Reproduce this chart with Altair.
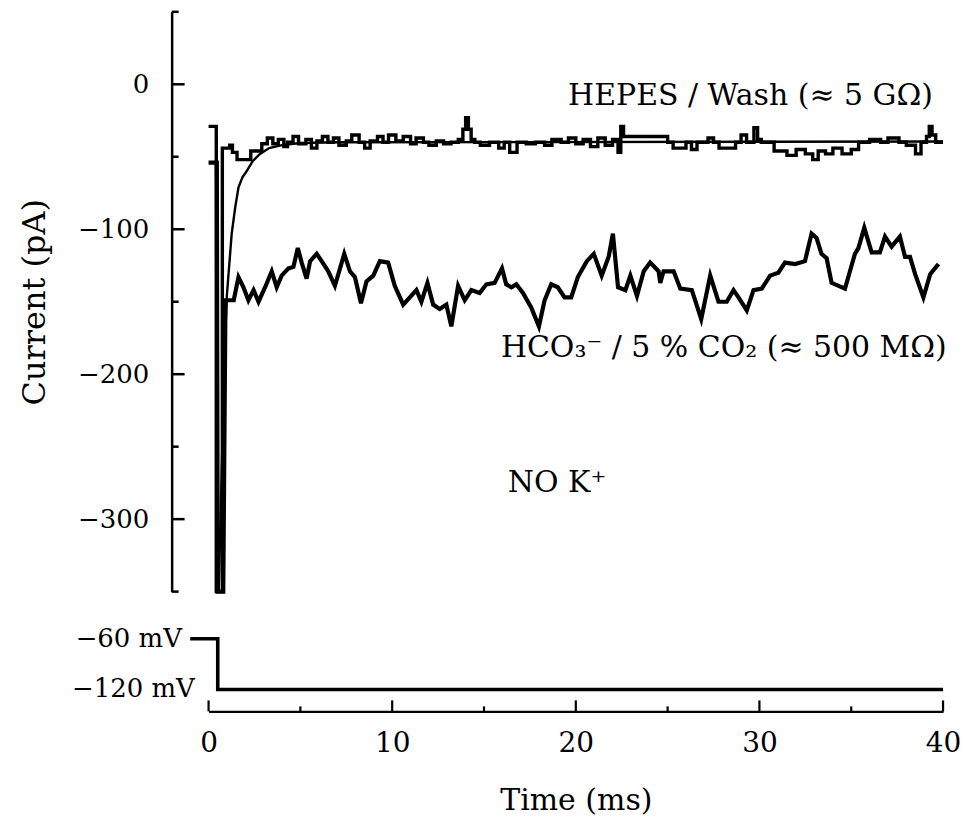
import altair as alt
import pandas as pd

FONT = "DejaVu Serif"

# ---------------- data ----------------
# HEPES / Wash trace (noisy, step-like), time in ms, current in pA
hepes_t = [0, 0.42, 0.75, 1.15, 1.3, 1.55, 2.3, 2.9, 3.2, 3.5, 3.8, 4.1, 4.3, 4.6, 4.9,
           5.3, 5.6, 5.9, 6.2, 6.5, 6.8, 7.1, 7.5, 7.8, 8.2, 8.5, 8.8, 9.2, 9.5, 9.8,
           10.2, 10.6, 11.0, 11.3, 11.7, 12.0, 12.4, 12.8, 13.2, 13.6, 13.85, 14.0, 14.15,
           14.3, 14.5, 14.8, 15.3, 15.8, 16.1, 16.4, 16.8, 17.3, 17.8, 18.3, 18.7, 19.2,
           19.6, 20.0, 20.4, 20.8, 21.2, 21.6, 22.0, 22.3, 22.45, 22.6, 25.0, 25.3, 26.0,
           26.3, 26.6, 27.2, 27.5, 27.8, 28.7, 29.0, 29.3, 29.7, 29.9, 30.1, 30.8, 31.5,
           32.0, 32.5, 32.9, 33.2, 33.6, 34.0, 34.5, 35.0, 35.4, 36.0, 36.6, 37.0, 37.6,
           38.0, 38.5, 38.8, 39.1, 39.25, 39.4, 39.6, 40.0]
hepes_i = [-29, -350, -44, -42, -47, -52, -46, -41, -37, -41, -38, -43, -40, -36, -41,
           -38, -44, -39, -36, -40, -37, -42, -39, -35, -40, -44, -39, -36, -40, -35,
           -39, -36, -41, -37, -40, -42, -39, -41, -40, -38, -31, -23, -31,
           -38, -40, -42, -40, -44, -40, -47, -40, -41, -40, -42, -38, -40,
           -37, -41, -38, -43, -37, -42, -38, -47, -29, -36, -40, -44, -40,
           -45, -40, -37, -40, -44, -40, -35, -40, -30, -38, -40, -46, -49,
           -45, -48, -52, -46, -48, -44, -48, -45, -40, -38, -40, -37, -40,
           -42, -48, -40, -36, -29, -35, -40, -40]

# smooth (wash) trace settling to the HEPES level
wash_t = [0.55, 0.75, 0.85, 1.0, 1.26, 1.45, 1.63, 1.85, 2.07, 2.4, 2.8, 3.3, 4.0, 5.0, 7.0, 40.0]
wash_i = [-350, -250, -190, -145, -103, -85, -71, -64, -60, -53, -48, -44, -42, -40.5, -40, -39.5]

# HCO3- / 5 % CO2 trace
hco3_t = [0, 0.45, 0.5, 0.8, 0.92, 1.37, 1.63, 1.9, 2.17, 2.45, 2.72, 3.08, 3.44, 3.71,
          3.98, 4.35, 4.62, 4.86, 5.07, 5.34, 5.53, 5.89, 6.16, 6.52, 6.88, 7.39, 7.7,
          7.97, 8.3, 8.6, 8.97, 9.33, 9.78, 10.14, 10.6, 10.96, 11.32, 11.59, 11.92,
          12.23, 12.59, 12.95, 13.22, 13.59, 13.95, 14.31, 14.76, 15.13, 15.58, 15.98,
          16.21, 16.49, 16.76, 17.12, 17.57, 17.99, 18.3, 18.66, 19.02, 19.39, 19.75,
          20.11, 20.6, 20.98, 21.41, 21.79, 22.02, 22.3, 22.7, 22.97, 23.33, 23.7, 24.05,
          24.51, 24.6, 24.78, 25.33, 25.69, 26.32, 26.83, 27.32, 27.77, 28.22, 28.59,
          28.86, 29.31, 29.68, 30.13, 30.58, 31.03, 31.39, 31.94, 32.48, 32.84, 33.11,
          33.38, 33.66, 33.93, 34.66, 34.93, 35.2, 35.39, 35.71, 36.11, 36.56, 36.84,
          37.2, 37.65, 37.93, 38.2, 38.48, 38.93, 39.3, 39.75]
hco3_i = [-54, -54, -350, -350, -149, -149, -133, -140, -149, -142, -150, -140, -129, -140,
          -132, -127, -126, -113, -123, -134, -122, -117, -122, -129, -139, -117, -129,
          -133, -151, -136, -132, -122, -123, -139, -152, -147, -142, -150, -137,
          -152, -155, -152, -167, -139, -149, -142, -144, -138, -137, -127,
          -138, -140, -138, -144, -154, -167, -149, -138, -140, -147, -147,
          -133, -122, -117, -132, -119, -103, -140, -142, -132, -146, -129, -123,
          -129, -137, -129, -129, -141, -142, -162, -132, -150, -150, -142,
          -147, -156, -142, -141, -132, -130, -123, -124, -122, -103, -106,
          -117, -120, -137, -141, -129, -117, -113, -99, -116, -116, -105,
          -112, -105, -119, -119, -131, -147, -131, -124]

# command voltage (mV)
volt_t = [-1.0, 0.5, 0.5, 40.0]
volt_v = [-60, -60, -120, -120]

# axes
y_major = [0, -100, -200, -300]
y_minor = [50, -50, -150, -250, -350]
x_major = [0, 10, 20, 30, 40]
x_minor = [5, 15, 25, 35]

# annotations
hepes_label = "HEPES / Wash (≈ 5 GΩ)"
hco3_label = "HCO₃⁻ / 5 % CO₂ (≈ 500 MΩ)"
nok_label = "NO K⁺"
volt_labels = ["−60 mV", "−120 mV"]
volt_label_t = [-1.45, -0.75]

# ---------------- chart ----------------
W, H_TOP, H_BOT = 736, 581, 77

x_scale = alt.Scale(domain=[0, 40], nice=False, zero=False)
y_scale = alt.Scale(domain=[-350, 50], nice=False, zero=False)
v_scale = alt.Scale(domain=[-146, -55], nice=False, zero=False)

y_axis = alt.Axis(values=y_major, ticks=False, tickSize=0, offset=37, labelPadding=23,
                  labelFont=FONT, labelFontSize=26, labelColor="black",
                  domainColor="black", domainWidth=2.5, grid=False,
                  title="Current (pA)", titleFont=FONT, titleFontSize=32,
                  titleFontWeight="normal", titleColor="black", titlePadding=26)

X = alt.X("t:Q", scale=x_scale, axis=None)
Y = alt.Y("i:Q", scale=y_scale, axis=y_axis)


def df(t, i):
    return pd.DataFrame({"t": t, "i": i, "k": list(range(len(t)))})


hepes = alt.Chart(df(hepes_t, hepes_i)).mark_line(
    interpolate="step-after", color="black", strokeWidth=3.4
).encode(x=X, y=Y, order="k:Q")

wash = alt.Chart(df(wash_t, wash_i)).mark_line(
    color="black", strokeWidth=2.4
).encode(x=X, y=Y, order="k:Q")

hco3 = alt.Chart(df(hco3_t, hco3_i)).mark_line(
    color="black", strokeWidth=4.2
).encode(x=X, y=Y, order="k:Q")

yt_major = alt.Chart(pd.DataFrame({"i": y_major})).mark_rule(
    color="black", strokeWidth=2.5
).encode(y=Y, x=alt.value(-37), x2=alt.value(-24))

yt_minor = alt.Chart(pd.DataFrame({"i": y_minor})).mark_rule(
    color="black", strokeWidth=2.5
).encode(y=Y, x=alt.value(-37), x2=alt.value(-30))

txt_hepes = alt.Chart(pd.DataFrame({"t": [39.45], "i": [-8], "label": [hepes_label]})).mark_text(
    align="right", baseline="middle", font=FONT, fontSize=30, color="black"
).encode(x=X, y=Y, text="label:N")

txt_hco3 = alt.Chart(pd.DataFrame({"t": [40.2], "i": [-182], "label": [hco3_label]})).mark_text(
    align="right", baseline="middle", font=FONT, fontSize=30, color="black"
).encode(x=X, y=Y, text="label:N")

txt_nok = alt.Chart(pd.DataFrame({"t": [16.3], "i": [-275], "label": [nok_label]})).mark_text(
    align="left", baseline="middle", font=FONT, fontSize=30, color="black"
).encode(x=X, y=Y, text="label:N")

top = alt.layer(hepes, wash, hco3, yt_major, yt_minor, txt_hepes, txt_hco3, txt_nok).properties(
    width=W, height=H_TOP)

x_axis = alt.Axis(values=x_major, format="d", ticks=False, tickSize=0, labelPadding=18,
                  labelFlush=False, labelOverlap=False,
                  labelFont=FONT, labelFontSize=28, labelColor="black",
                  domainColor="black", domainWidth=2.5, grid=False,
                  title="Time (ms)", titleFont=FONT, titleFontSize=30,
                  titleFontWeight="normal", titleColor="black", titlePadding=28)

XB = alt.X("t:Q", scale=x_scale, axis=x_axis)
YB = alt.Y("v:Q", scale=v_scale, axis=None)

volt = alt.Chart(pd.DataFrame({"t": volt_t, "v": volt_v, "k": list(range(len(volt_t)))})).mark_line(
    color="black", strokeWidth=3.6
).encode(x=XB, y=YB, order="k:Q")

xt_major = alt.Chart(pd.DataFrame({"t": x_major})).mark_rule(
    color="black", strokeWidth=2.2
).encode(x=XB, y=alt.value(H_BOT), y2=alt.value(H_BOT - 11))

xt_minor = alt.Chart(pd.DataFrame({"t": x_minor})).mark_rule(
    color="black", strokeWidth=2.2
).encode(x=XB, y=alt.value(H_BOT), y2=alt.value(H_BOT - 5))

vlab = alt.Chart(pd.DataFrame({"t": volt_label_t, "v": [-60, -120], "label": volt_labels})).mark_text(
    align="right", baseline="middle", font=FONT, fontSize=26, color="black"
).encode(x=XB, y=YB, text="label:N")

bottom = alt.layer(volt, xt_major, xt_minor, vlab).properties(width=W, height=H_BOT)

chart = alt.vconcat(top, bottom, spacing=43, bounds="flush").properties(
    padding={"left": 18, "top": 9, "right": 5, "bottom": 5}
).configure(font=FONT, background="white", view=alt.ViewConfig(stroke=None))

chart.save("out.html", embed_options={"renderer": "svg", "actions": False})
